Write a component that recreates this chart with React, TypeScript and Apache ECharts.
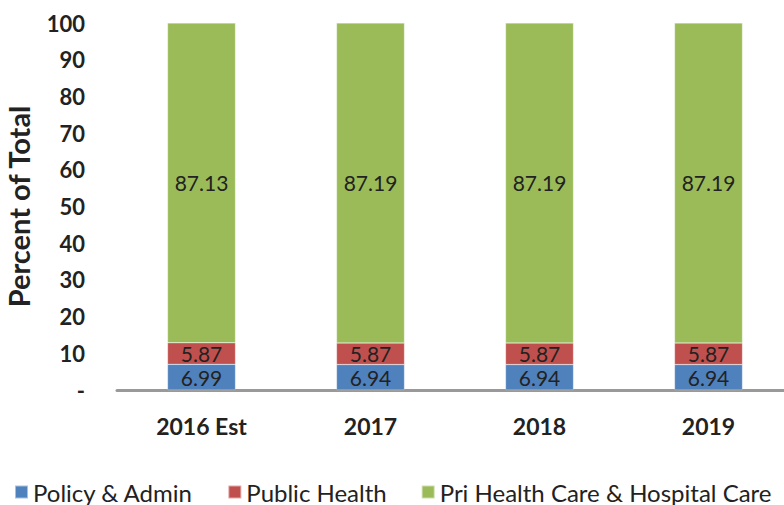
import React, { useEffect, useRef } from "react";
import * as echarts from "echarts";

const categories = ["2016 Est", "2017", "2018", "2019"];
const policyAdmin = [6.99, 6.94, 6.94, 6.94];
const publicHealth = [5.87, 5.87, 5.87, 5.87];
const priHealthCare = [87.13, 87.19, 87.19, 87.19];
const seriesNames = ["Policy & Admin", "Public Health", "Pri Health Care & Hospital Care"];
const colors = ["#4F81BD", "#C0504D", "#9BBB59"];

const FONT = "Lato, 'Open Sans', sans-serif";

export default function App() {
  const ref = useRef<HTMLDivElement>(null);
  useEffect(() => {
    if (!ref.current) return;
    const chart = echarts.init(ref.current, null, { renderer: "svg" });
    const label = {
      show: true,
      position: "inside" as const,
      color: "#222",
      fontSize: 21,
      fontFamily: FONT,
      formatter: (p: any) => p.value.toFixed(2),
    };
    const datasets = [policyAdmin, publicHealth, priHealthCare];
    chart.setOption({
      animation: false,
      textStyle: { fontFamily: FONT },
      grid: { left: 117, top: 23, width: 676, height: 367, outerBoundsMode: "none", containLabel: false },
      legend: {
        top: 478,
        left: 14,
        width: 770,
        padding: 0,
        itemWidth: 13,
        itemHeight: 13,
        itemGap: 34,
        icon: "rect",
        textStyle: { fontSize: 24, lineHeight: 28, color: "#222", fontFamily: FONT },
        data: seriesNames,
      },
      xAxis: {
        type: "category",
        data: categories,
        axisLine: { lineStyle: { color: "#999", width: 3 } },
        axisTick: { show: false },
        axisLabel: { fontSize: 23, fontWeight: "bold", color: "#222", margin: 24, fontFamily: FONT },
      },
      yAxis: {
        type: "value",
        min: 0,
        max: 100,
        interval: 10,
        name: "Percent of Total",
        nameLocation: "middle",
        nameGap: 84,
        nameTextStyle: { fontSize: 29, fontWeight: "bold", color: "#222", fontFamily: FONT },
        axisLine: { show: false },
        axisTick: { show: false },
        splitLine: { show: false },
        axisLabel: {
          fontSize: 22,
          fontWeight: "bold",
          color: "#222",
          margin: 32,
          fontFamily: FONT,
          formatter: (v: number) => (v === 0 ? "-" : String(v)),
        },
      },
      series: seriesNames.map((name, i) => ({
        name,
        type: "bar",
        stack: "total",
        barWidth: 68,
        data: datasets[i],
        itemStyle: { color: colors[i], borderColor: "rgba(255,255,255,0.5)", borderWidth: 0.5 },
        label,
      })),
    });
    return () => chart.dispose();
  }, []);
  return <div ref={ref} style={{ width: 784, height: 505, position: "absolute", left: 0, top: 0 }} />;
}
